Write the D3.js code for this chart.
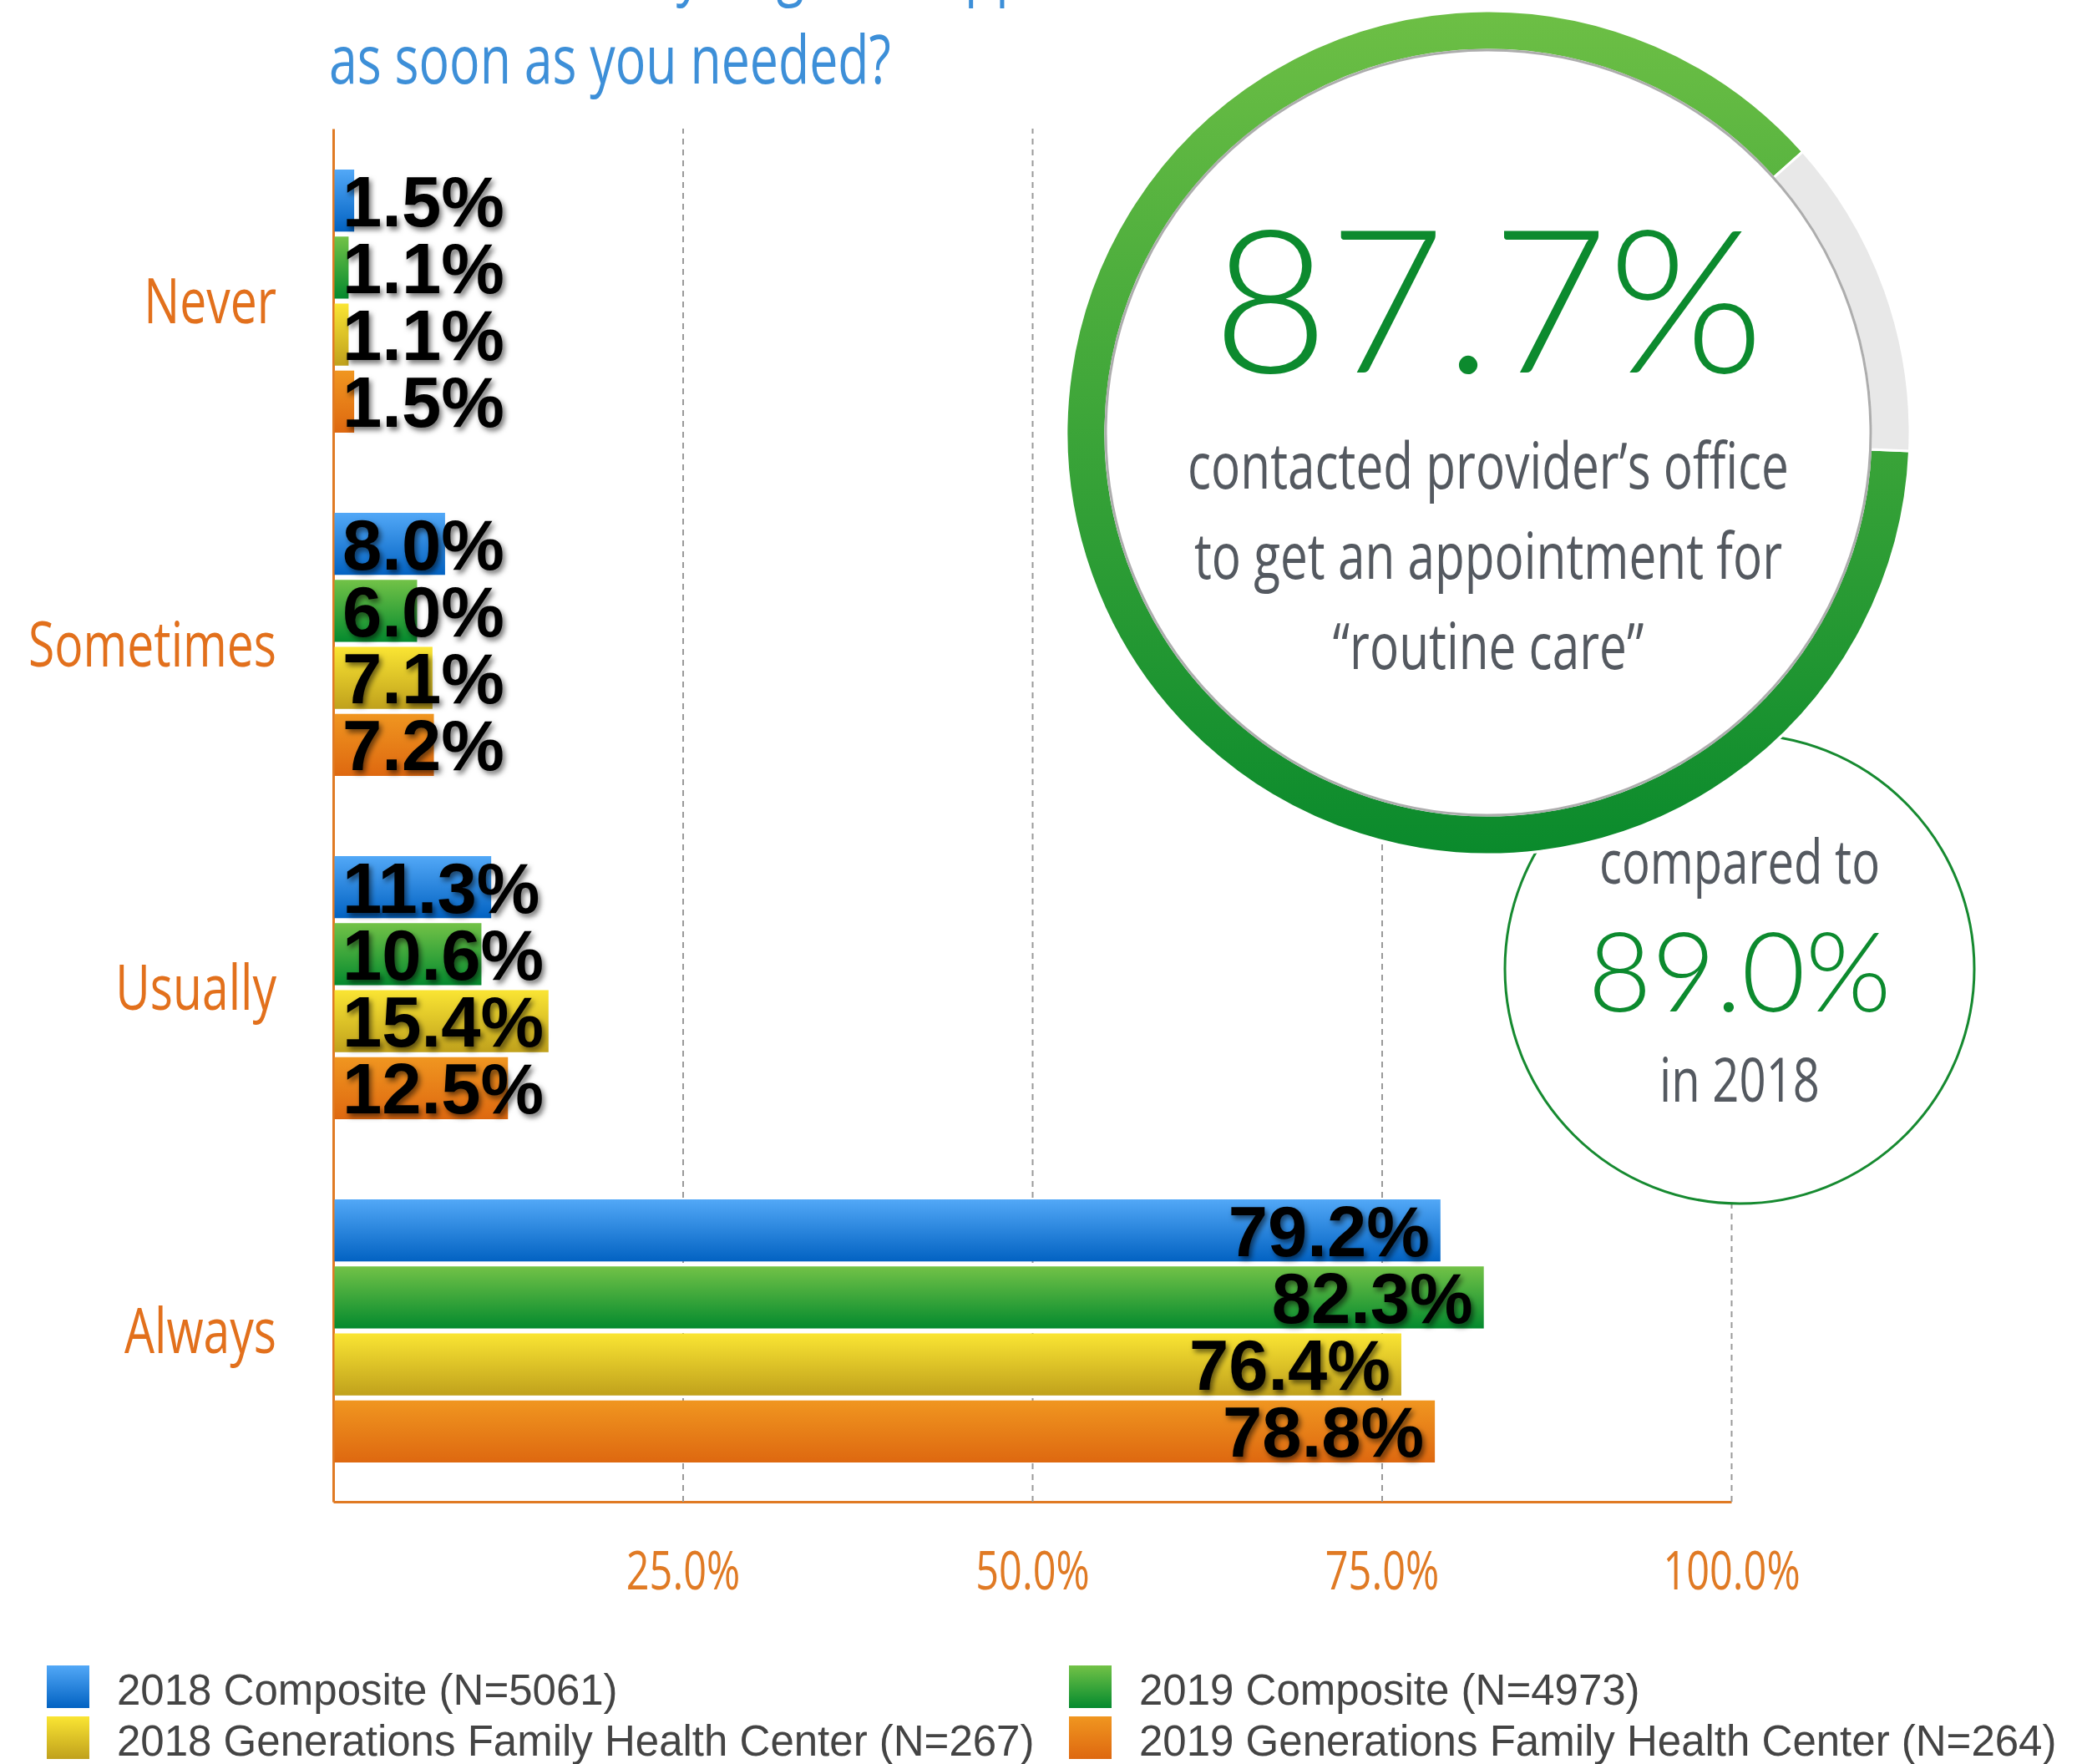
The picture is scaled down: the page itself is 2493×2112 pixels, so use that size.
<!DOCTYPE html>
<html>
<head>
<meta charset="utf-8">
<script src="https://cdn.jsdelivr.net/npm/d3@7"></script>
<style>
  body { margin: 0; background: #fff; }
  svg { display: block; }
</style>
</head>
<body>
<svg width="2493" height="2112"></svg>
<script>
// survey answers, percent of respondents per series
var categories = ["Never", "Sometimes", "Usually", "Always"];
var seriesNames = ["2018 Composite (N=5061)", "2019 Composite (N=4973)",
                   "2018 Generations Family Health Center (N=267)", "2019 Generations Family Health Center (N=264)"];
var composite2018 = [1.5, 8.0, 11.3, 79.2];
var composite2019 = [1.1, 6.0, 10.6, 82.3];
var gfhc2018 = [1.1, 7.1, 15.4, 76.4];
var gfhc2019 = [1.5, 7.2, 12.5, 78.8];
var xTicks = [25, 50, 75, 100];
var headline = 87.7;   // big donut
var previous = 89.0;   // small circle
var titleLines = ["How often did you get an appointment", "as soon as you needed?"];
var headlineLines = ["contacted provider\u2019s office", "to get an appointment for", "\u201croutine care\u201d"];

var series = [composite2018, composite2019, gfhc2018, gfhc2019];
var gradStops = [["#52a8f7", "#0262c2"], ["#72c247", "#048a2e"], ["#fae533", "#c0a11c"], ["#f09620", "#de6810"]];

var SX = 0.76; // squeeze for the condensed faces
var condFont = "'Open Sans', 'Noto Sans', sans-serif";

// plot box (note: "top" is taken by window.top)
var plotL = 399, plotR = 2073, plotT = 154, plotB = 1798;

var svg = d3.select("svg");
var defs = svg.append("defs");

gradStops.forEach(function(s, i) {
  var lg = defs.append("linearGradient").attr("id", "bar" + i)
    .attr("x1", 0).attr("y1", 0).attr("x2", 0).attr("y2", 1);
  lg.append("stop").attr("offset", "0%").attr("stop-color", s[0]);
  lg.append("stop").attr("offset", "100%").attr("stop-color", s[1]);
});

var shadow = defs.append("filter").attr("id", "shadow")
  .attr("x", "-10%").attr("y", "-20%").attr("width", "130%").attr("height", "150%");
shadow.append("feDropShadow").attr("dx", 3).attr("dy", 4).attr("stdDeviation", 3)
  .attr("flood-color", "#000").attr("flood-opacity", 0.55);

var x = d3.scaleLinear().domain([0, 100]).range([plotL, plotR]);
var y = d3.scaleBand().domain(categories).range([plotT, plotB]);
var yInner = d3.scaleBand().domain(d3.range(series.length)).range([49, 364]).paddingInner(0.074);

// title, first line runs off the top of the picture
titleLines.forEach(function(t, i) {
  svg.append("text")
    .attr("transform", "translate(394," + (-9 + i * 109) + ") scale(" + SX + ",1)")
    .attr("font-family", condFont).attr("font-size", 80).attr("fill", "#3d8fd8")
    .text(t);
});

// grid + bottom axis
var xAxis = svg.append("g").attr("transform", "translate(0," + plotB + ")")
  .call(d3.axisBottom(x).tickValues(xTicks).tickSize(-(plotB - plotT)).tickSizeOuter(0)
    .tickPadding(60).tickFormat(function(d) { return d.toFixed(1) + "%"; }));
xAxis.select(".domain").attr("stroke", "#e07a24").attr("stroke-width", 3);
xAxis.selectAll(".tick line").attr("stroke", "#9a9a9a").attr("stroke-width", 2).attr("stroke-dasharray", "7,6");
xAxis.selectAll(".tick text")
  .attr("transform", "scale(" + SX + ",1)")
  .attr("font-family", condFont).attr("font-size", 64).attr("fill", "#e07a24");

// left axis with category names
var yAxis = svg.append("g").attr("transform", "translate(" + plotL + ",0)")
  .call(d3.axisLeft(y).tickSize(0).tickSizeOuter(0));
yAxis.select(".domain").attr("stroke", "#e07a24").attr("stroke-width", 3);
yAxis.selectAll(".tick text")
  .attr("x", 0).attr("dy", "0.35em")
  .attr("transform", "translate(-68,1) scale(" + SX + ",1)")
  .attr("font-family", condFont).attr("font-size", 75).attr("fill", "#e2701c");

// bars
var groups = svg.append("g").selectAll("g").data(categories).join("g")
  .attr("transform", function(c) { return "translate(0," + y(c) + ")"; });

groups.each(function(c, ci) {
  var g = d3.select(this);
  series.forEach(function(vals, si) {
    var v = vals[ci];
    var y0 = yInner(si), h = yInner.bandwidth();
    g.append("rect").attr("x", x(0) + 1.5).attr("y", y0)
      .attr("width", x(v) - x(0) - 1.5).attr("height", h)
      .attr("fill", "url(#bar" + si + ")");
    var t = g.append("text")
      .attr("y", y0 + h / 2).attr("dy", "0.36em")
      .attr("font-family", "'Liberation Sans', Arial, sans-serif").attr("font-weight", "bold")
      .attr("font-size", 85).attr("fill", "#000").attr("filter", "url(#shadow)")
      .text(v.toFixed(1) + "%");
    var w = t.node().getComputedTextLength();
    if (x(v) - 13 - w < x(0) + 11) {
      t.attr("x", x(0) + 11).attr("text-anchor", "start");
    } else {
      t.attr("x", x(v) - 13).attr("text-anchor", "end");
    }
  });
});

// small comparison circle
var small = svg.append("g").attr("transform", "translate(2083,1160)");
small.append("circle").attr("r", 281).attr("fill", "#fff").attr("stroke", "#168a30").attr("stroke-width", 3);
small.append("text").attr("transform", "translate(0,-102) scale(" + SX + ",1)")
  .attr("text-anchor", "middle").attr("font-family", condFont).attr("font-size", 74).attr("fill", "#545960")
  .text("compared to");
small.append("text").attr("y", 51).attr("text-anchor", "middle")
  .attr("font-family", "Lato, Roboto, sans-serif").attr("font-weight", 300)
  .attr("font-size", 132).attr("fill", "#0c8a2e")
  .text(previous.toFixed(1) + "%");
small.append("text").attr("transform", "translate(0,159) scale(" + SX + ",1)")
  .attr("text-anchor", "middle").attr("font-family", condFont).attr("font-size", 74).attr("fill", "#545960")
  .text("in 2018");

// big donut
var cx = 1782, cy = 518, rOut = 505, rIn = 458;
var ringGrad = defs.append("linearGradient").attr("id", "ring").attr("gradientUnits", "userSpaceOnUse")
  .attr("x1", 0).attr("y1", -rOut).attr("x2", 0).attr("y2", rOut);
ringGrad.append("stop").attr("offset", "0%").attr("stop-color", "#6dbf45");
ringGrad.append("stop").attr("offset", "100%").attr("stop-color", "#0a8a2c");

var donut = svg.append("g").attr("transform", "translate(" + cx + "," + cy + ")");
donut.append("circle").attr("r", rOut + 2).attr("fill", "#fff");
var start = 92.5 * Math.PI / 180;
var pie = d3.pie().sort(null).startAngle(start).endAngle(start + 2 * Math.PI);
var arc = d3.arc().innerRadius(rIn).outerRadius(rOut);
donut.selectAll("path").data(pie([headline, 100 - headline])).join("path")
  .attr("d", arc)
  .attr("fill", function(d, i) { return i === 0 ? "url(#ring)" : "#e8e8e8"; })
  .attr("stroke", "#fff").attr("stroke-width", 3);
donut.append("circle").attr("r", rIn).attr("fill", "#fff").attr("stroke", "#adadad").attr("stroke-width", 3);

donut.append("text").attr("y", 446 - cy).attr("text-anchor", "middle")
  .attr("font-family", "Lato, Roboto, sans-serif").attr("font-weight", 300)
  .attr("font-size", 240).attr("fill", "#0c8a2e")
  .text(headline.toFixed(1) + "%");
headlineLines.forEach(function(t, i) {
  donut.append("text")
    .attr("transform", "translate(0," + (585 - cy + i * 108) + ") scale(" + SX + ",1)")
    .attr("text-anchor", "middle").attr("font-family", condFont).attr("font-size", 77).attr("fill", "#545960")
    .text(t);
});

// legend, two columns
var legend = svg.append("g").selectAll("g").data(seriesNames).join("g")
  .attr("transform", function(d, i) { return "translate(" + [56, 1280][i % 2] + "," + [1994, 2055][Math.floor(i / 2)] + ")"; });
legend.append("rect").attr("width", 51).attr("height", 51)
  .attr("fill", function(d, i) { return "url(#bar" + i + ")"; });
legend.append("text").attr("x", 84).attr("y", 47)
  .attr("font-family", "'Liberation Sans', Arial, sans-serif").attr("font-size", 51).attr("fill", "#444")
  .text(function(d) { return d; });
</script>
</body>
</html>
